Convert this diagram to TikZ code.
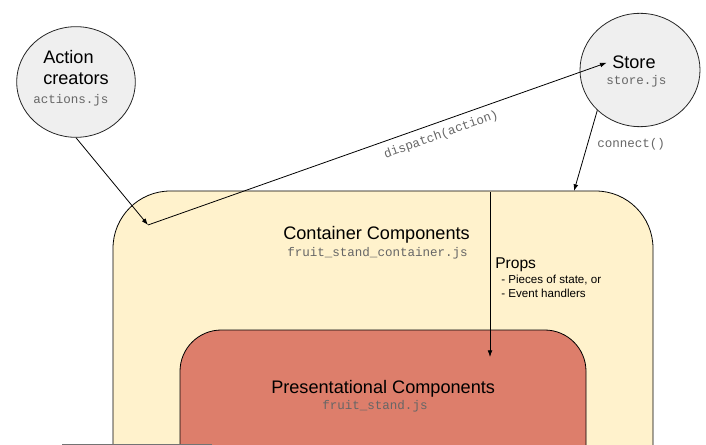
\documentclass[tikz,border=0pt]{standalone}
\usepackage{fontspec}
\setmainfont{Liberation Sans}
\setmonofont{Liberation Mono}
\usetikzlibrary{shapes.geometric,arrows.meta}
\definecolor{bubblegray}{HTML}{EFEFEF}
\definecolor{contyellow}{HTML}{FFF2CC}
\definecolor{presred}{HTML}{DD7E6B}
\definecolor{codegray}{HTML}{666666}
\tikzset{
    bubble/.style={ellipse, draw=black!85, fill=bubblegray, line width=0.6pt},
    biglbl/.style={font=\fontsize{13.6}{16}\selectfont, inner sep=0pt, anchor=base west},
    smalllbl/.style={font=\fontsize{8.7}{10}\selectfont, inner sep=0pt, anchor=base west},
    codelbl/.style={font=\fontsize{9.4}{11}\selectfont\ttfamily, text=codegray, inner sep=0pt, anchor=base west},
    flow/.style={-{Latex[length=5pt,width=3.6pt]}, line width=0.6pt},
}
\begin{document}
\begin{tikzpicture}[x=0.75pt, y=-0.75pt]
        \clip (0,0) rectangle (706,445);
        % nested component boxes (cut off at the bottom)
        \draw[fill=contyellow, line width=0.6pt, rounded corners=43pt] (113,191) rectangle (653,560);
        \draw[fill=presred, line width=0.6pt, rounded corners=31pt] (180,330) rectangle (586,560);
        % the two bubbles
        \node[bubble, minimum width=89pt, minimum height=83pt] (acts) at (76,82) {};
        \node[bubble, minimum width=90pt, minimum height=85pt] (store) at (640,70) {};
        \node[biglbl] (actlbla) at (43,64) {Action};
        \node[biglbl] (actlblb) at (43,85) {creators};
        \node[codelbl] (actfile) at (33,104) {actions.js};
        \node[biglbl] (storelbl) at (612,69) {Store};
        \node[codelbl] (storefile) at (606,85) {store.js};
        % box labels
        \node[biglbl] (contlbl) at (283,239) {Container Components};
        \node[codelbl] (contfile) at (287,257) {fruit\_stand\_container.js};
        \node[biglbl] (preslbl) at (271,393) {Presentational Components};
        \node[codelbl] (presfile) at (322,409) {fruit\_stand.js};
        \node[font=\fontsize{11.7}{13}\selectfont, inner sep=0pt, anchor=base west] (propslbl) at (495,268) {Props};
        \node[smalllbl] (propsa) at (501,283) {- Pieces of state, or};
        \node[smalllbl] (propsb) at (501,297) {- Event handlers};
        % connectors
        \coordinate (hook) at (148,225);
        \coordinate (conntip) at (574,191);
        \coordinate (propstop) at (490,192);
        \coordinate (propstip) at (490,357);
        \draw[flow] (acts.south) -- (hook);
        \draw[flow] (hook) -- node[sloped, below=5pt, pos=0.63, codelbl, anchor=north] {dispatch(action)} ([xshift=-4pt]storelbl.west);
        \draw[flow] (store.south west) -- node[pos=0.42, codelbl, anchor=west, xshift=7pt] {connect()} (conntip);
        \draw[flow] (propstop) -- (propstip);
        % faded edge along the bottom
        \coordinate (edgea) at (62,444.5);
        \coordinate (edgeb) at (212,444.5);
        \draw[black!55, line width=0.9pt] (edgea) -- (edgeb);
\end{tikzpicture}
\end{document}
